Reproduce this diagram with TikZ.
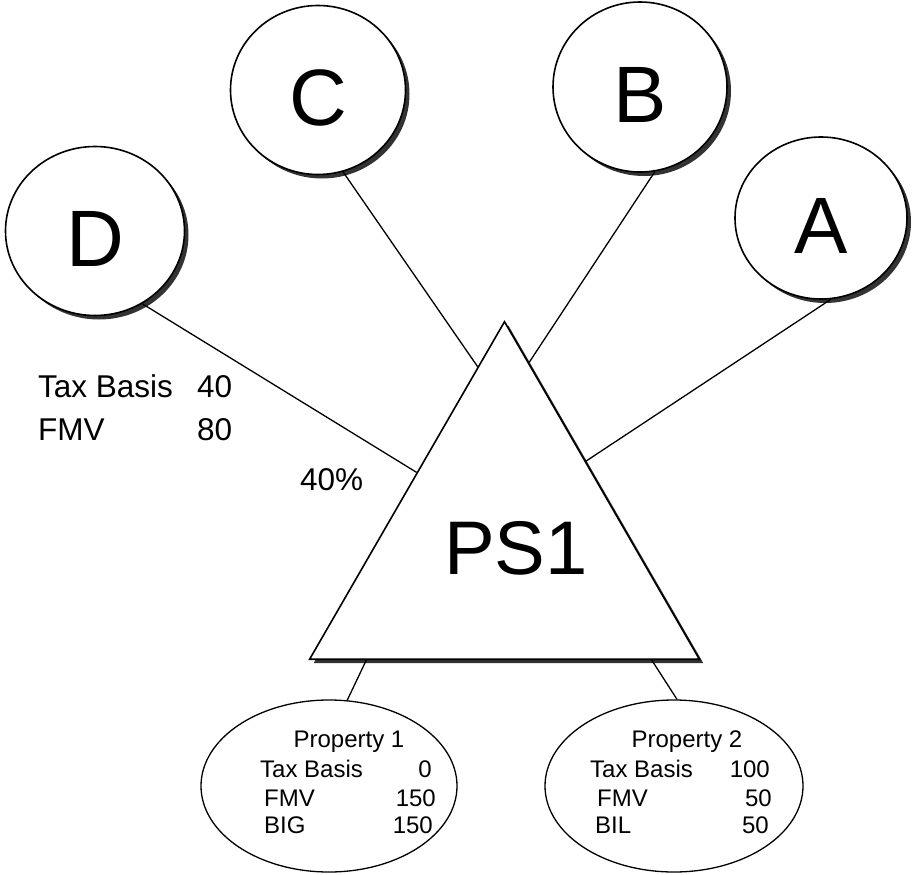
\documentclass[tikz,border=0pt]{standalone}
\usepackage{fontspec}
\setmainfont{Liberation Sans}
\usetikzlibrary{shapes.geometric,calc,shadows}
\begin{document}
\begin{tikzpicture}[x=1pt,y=-1pt,
  darkshadow/.style={drop shadow={shadow xshift=4pt, shadow yshift=-4pt, fill=black!80, opacity=1}},
  owner/.style={ellipse, draw, line width=1.6pt, fill=white, inner sep=0pt, darkshadow,
    font=\fontsize{80}{80}\selectfont, text height=71pt, text depth=0pt},
  entity/.style={regular polygon, regular polygon sides=3, draw, line width=1.6pt,
    fill=white, inner sep=0pt, darkshadow},
  asset/.style={ellipse, draw, line width=1.3pt, fill=white, inner sep=0pt},
  link/.style={line width=1.3pt},
  note/.style={font=\fontsize{31.5}{31.5}\selectfont, inner sep=0pt},
  small/.style={font=\fontsize{24}{24}\selectfont, inner sep=0pt}
]
\useasboundingbox (0,0) rectangle (916,875);

% partners
\node[owner, minimum width=179pt, minimum height=169pt] (D) at (95,231) {D};
\node[owner, minimum width=175pt, minimum height=169pt] (C) at (318,90) {C};
\node[owner, minimum width=174pt, minimum height=170pt] (B) at (640,87) {B};
\node[owner, minimum width=172pt, minimum height=162pt] (A) at (821,218) {A};

% partnership
\node[entity, minimum size=450pt] (ps) at (504.5,546.7) {};
\node[font=\fontsize{76}{76}\selectfont, inner sep=0pt] (pslabel) at (516,548) {PS1};

% properties
\node[asset, minimum width=256pt, minimum height=172pt] (P1) at (329,786) {};
\node[asset, minimum width=258pt, minimum height=172pt] (P2) at (674,786) {};

% ownership links
\draw[link] (D.-57) -- ($(ps.corner 1)!0.448!(ps.corner 2)$);
\draw[link] (C.-73) -- ($(ps.corner 1)!0.137!(ps.corner 2)$);
\draw[link] (B.-80) -- ($(ps.corner 1)!0.125!(ps.corner 3)$);
\draw[link] (A.-83) -- ($(ps.corner 1)!0.415!(ps.corner 3)$);
\draw[link] ($(ps.corner 2)!0.148!(ps.corner 3)$) -- (P1.78);
\draw[link] ($(ps.corner 2)!0.875!(ps.corner 3)$) -- (P2.88);

% D's position
\node[note, anchor=base west] (dtb) at (38,397) {Tax Basis};
\node[note, anchor=base west] (dtbv) at (197,397) {40};
\node[note, anchor=base west] (dfmv) at (38,440) {FMV};
\node[note, anchor=base west] (dfmvv) at (197,440) {80};
\node[note, anchor=base west] (dpct) at (300,490) {40\%};

% Property 1
\node[small, anchor=base] (p1t) at (349,747) {Property 1};
\node[small, anchor=base west] (p1a) at (260,777) {Tax Basis};
\node[small, anchor=base east] (p1av) at (432,777) {0};
\node[small, anchor=base west] (p1b) at (264,806) {FMV};
\node[small, anchor=base east] (p1bv) at (436,806) {150};
\node[small, anchor=base west] (p1c) at (264,833) {BIG};
\node[small, anchor=base east] (p1cv) at (433,833) {150};

% Property 2
\node[small, anchor=base] (p2t) at (687,747) {Property 2};
\node[small, anchor=base west] (p2a) at (590,777) {Tax Basis};
\node[small, anchor=base east] (p2av) at (770,777) {100};
\node[small, anchor=base west] (p2b) at (597,806) {FMV};
\node[small, anchor=base east] (p2bv) at (772,806) {50};
\node[small, anchor=base west] (p2c) at (595,833) {BIL};
\node[small, anchor=base east] (p2cv) at (769,833) {50};
\end{tikzpicture}
\end{document}
